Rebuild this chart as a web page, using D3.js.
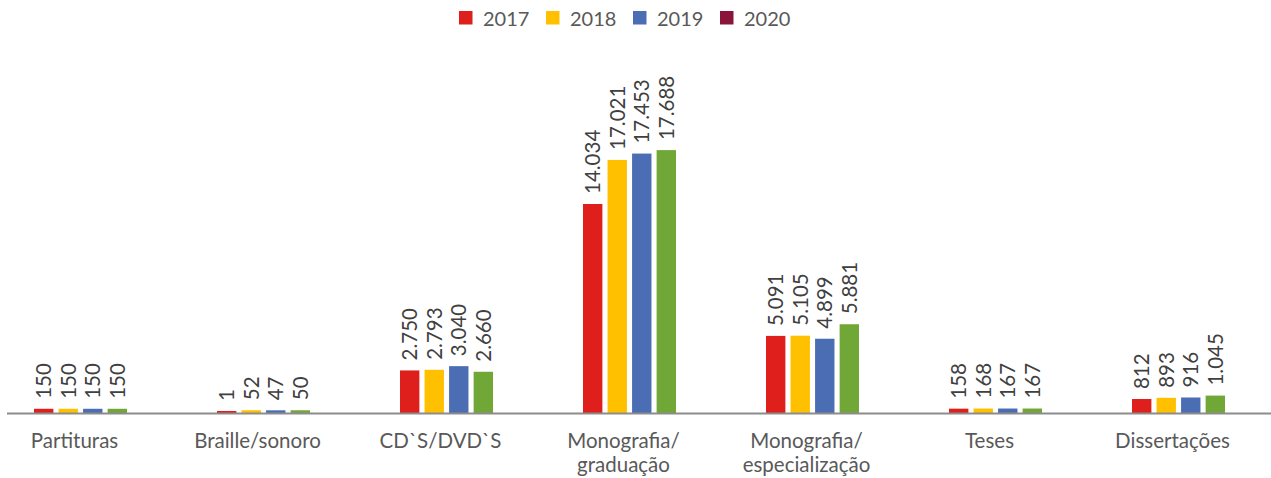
<!DOCTYPE html>
<html>
<head>
<meta charset="utf-8">
<script src="https://cdn.jsdelivr.net/npm/d3@7"></script>
<style>
  html, body { margin: 0; padding: 0; background: #ffffff; }
  svg { display: block; }
</style>
</head>
<body>
<svg id="chart" width="1271" height="478"></svg>
<script>
// Acervo por tipo de material, 2017–2020
const categories = [
  "Partituras",
  "Braille/sonoro",
  "CD`S/DVD`S",
  "Monografia/\ngraduação",
  "Monografia/\nespecialização",
  "Teses",
  "Dissertações"
];
const seriesNames = ["2017", "2018", "2019", "2020"];
const values2017 = [150, 1, 2750, 14034, 5091, 158, 812];
const values2018 = [150, 52, 2793, 17021, 5105, 168, 893];
const values2019 = [150, 47, 3040, 17453, 4899, 167, 916];
const values2020 = [150, 50, 2660, 17688, 5881, 167, 1045];
const seriesValues = [values2017, values2018, values2019, values2020];

// bar fills and legend swatches (legend uses its own swatch for 2020)
const barColors = ["#DF1F1B", "#FFC000", "#4A6DB4", "#71A736"];
const legendColors = ["#DF1F1B", "#FFC000", "#4A6DB4", "#8B153A"];

const W = 1271, H = 478;
const baseY = 413.5;
const svg = d3.select("#chart");

// thousands separator as a dot (pt-BR)
const fmt = v => d3.format(",")(v).replace(/,/g, ".");

const x0 = d3.scaleBand().domain(categories).range([-11, 1270]).padding(0);
const x1 = d3.scaleBand().domain(seriesNames).range([-46.5, 46.5]).paddingInner(0.21);
// value axis starts a touch below zero so bars rise just above the axis line
const y = d3.scaleLinear().domain([-170, 20000]).range([baseY, baseY - 297.5]);

// bars
const groups = svg.append("g")
  .selectAll("g")
  .data(categories)
  .join("g")
  .attr("transform", c => `translate(${x0(c) + x0.bandwidth() / 2},0)`);

const cells = groups.selectAll("g.cell")
  .data((c, ci) => seriesNames.map((s, si) => ({ s, si, v: seriesValues[si][ci] })))
  .join("g")
  .attr("class", "cell");

cells.append("rect")
  .attr("x", d => x1(d.s))
  .attr("width", x1.bandwidth())
  .attr("y", d => y(d.v))
  .attr("height", d => baseY - y(d.v))
  .attr("fill", d => barColors[d.si]);

// value labels, rotated
cells.append("text")
  .attr("transform", d => `translate(${x1(d.s) + x1.bandwidth() / 2},${y(d.v) - 10}) rotate(-90)`)
  .attr("dy", "0.36em")
  .attr("text-anchor", "start")
  .attr("font-family", "Lato, 'Open Sans', sans-serif")
  .attr("font-size", 20.5)
  .attr("fill", "#404040")
  .text(d => fmt(d.v));

// baseline
svg.append("line")
  .attr("x1", 7).attr("x2", W)
  .attr("y1", baseY).attr("y2", baseY)
  .attr("stroke", "#8C8C8C")
  .attr("stroke-width", 2);

// category axis labels
const xAxis = d3.axisBottom(x0).tickSize(0).tickFormat("");
const axisG = svg.append("g").attr("transform", `translate(0,${baseY})`).call(xAxis);
axisG.select(".domain").remove();

axisG.selectAll(".tick").each(function (c) {
  const lines = c.split("\n");
  const t = d3.select(this).append("text")
    .attr("y", 34)
    .attr("text-anchor", "middle")
    .attr("font-family", "Lato, 'DejaVu Sans', sans-serif")
    .attr("font-size", 20.5)
    .attr("fill", "#595959");
  lines.forEach((ln, i) => {
    t.append("tspan").attr("x", -6).attr("dy", i === 0 ? 0 : 24).text(ln);
  });
});

// legend
const legend = svg.append("g").attr("transform", "translate(459,0)");
const li = legend.selectAll("g")
  .data(seriesNames)
  .join("g")
  .attr("transform", (d, i) => `translate(${i * 87},0)`);
li.append("rect")
  .attr("x", 0).attr("y", 11)
  .attr("width", 13.5).attr("height", 13.5)
  .attr("fill", (d, i) => legendColors[i]);
li.append("text")
  .attr("x", 24).attr("y", 25.5)
  .attr("font-family", "Lato, 'DejaVu Sans', sans-serif")
  .attr("font-size", 20)
  .attr("fill", "#595959")
  .text(d => d);
</script>
</body>
</html>
